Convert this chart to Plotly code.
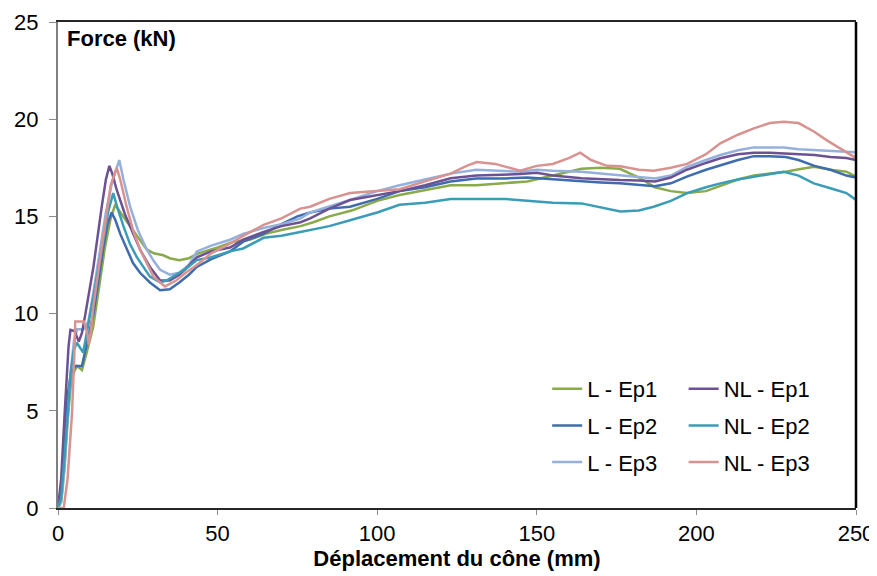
"""
Force vs cone displacement, L / NL series for three samples.
"""
import plotly.graph_objects as go

# --- L - Ep1 (green)
L_EP1_X = [0, 1, 2, 3, 4, 5, 6, 7.5, 9, 11, 13, 14.7, 16.5, 17.9, 20, 22.6, 25,
           27.8, 30, 33, 35, 38, 41, 44, 50, 55, 60, 65, 70, 76, 80, 85, 92,
           100, 107, 115, 123, 131, 140, 147, 155, 164, 170, 176, 182, 187,
           192, 197, 203, 208, 213, 218, 223, 228, 233, 237, 242, 247, 250]
L_EP1_Y = [0, 0.3, 2.0, 4.5, 6.3, 7.0, 7.3, 7.1, 8.0, 9.3, 11.5, 13.4, 14.9,
           15.6, 15.1, 14.5, 13.9, 13.3, 13.1, 13.0, 12.85, 12.75, 12.85, 13.1,
           13.4, 13.7, 13.8, 14.1, 14.3, 14.5, 14.7, 15.0, 15.3, 15.8, 16.1,
           16.35, 16.6, 16.6, 16.7, 16.8, 17.1, 17.45, 17.5, 17.45, 17.0, 16.5,
           16.3, 16.2, 16.3, 16.6, 16.9, 17.1, 17.2, 17.3, 17.45, 17.55, 17.4,
           17.3, 17.05]

# --- L - Ep2 (dark blue)
L_EP2_X = [0, 1, 2, 3, 4, 5.4, 7.5, 9, 11.1, 14.2, 15.5, 16.8, 18, 19.5, 21.5,
           23.5, 25.7, 28.8, 32, 35, 38, 41, 43.5, 48, 53.9, 58, 64.4, 70, 75,
           79, 85, 91.5, 100, 107, 115, 123, 131, 140, 147, 155, 164, 170, 176,
           182, 187, 192, 197, 203, 207.5, 213, 218, 223, 228, 232, 237, 242,
           247, 250]
L_EP2_Y = [0, 0.8, 3.5, 5.8, 6.9, 7.3, 7.3, 8.5, 10.0, 13.4, 14.6, 15.2, 14.8,
           14.1, 13.3, 12.6, 12.1, 11.6, 11.2, 11.25, 11.6, 12.0, 12.4, 12.8,
           13.2, 13.7, 14.1, 14.6, 15.0, 15.2, 15.4, 15.5, 15.9, 16.3, 16.5,
           16.8, 16.95, 16.95, 17.0, 16.9, 16.8, 16.75, 16.7, 16.6, 16.55, 16.7,
           17.05, 17.4, 17.64, 17.9, 18.1, 18.1, 18.05, 17.9, 17.6, 17.4, 17.1,
           17.0]

# --- L - Ep3 (light blue)
L_EP3_X = [0, 1, 2, 3, 4, 5, 6, 8, 9.5, 11, 13, 15, 17, 19.2, 20.5, 22.6, 25,
           27.8, 30, 32, 35, 38, 41, 43.5, 48, 53.9, 58, 64.4, 70, 76, 79, 85,
           91.5, 100, 107, 115, 123, 131, 140, 144.8, 150, 155, 164, 170, 176,
           182, 187, 192, 197, 203, 207.5, 213, 218, 223, 227.4, 232, 237, 242,
           247, 250]
L_EP3_Y = [0, 0.3, 2.0, 4.5, 7.0, 8.6, 9.2, 9.2, 9.6, 11.0, 13.0, 15.2, 16.8,
           17.9, 16.9, 15.5, 14.3, 13.3, 12.7, 12.25, 12.0, 12.1, 12.5, 13.2,
           13.5, 13.8, 14.1, 14.4, 14.6, 14.9, 15.2, 15.5, 15.85, 16.3, 16.6,
           16.9, 17.2, 17.4, 17.35, 17.3, 17.4, 17.35, 17.3, 17.2, 17.13, 17.0,
           16.95, 17.1, 17.55, 17.9, 18.16, 18.4, 18.55, 18.55, 18.55, 18.45,
           18.4, 18.35, 18.3, 18.3]

# --- NL - Ep1 (purple)
NL_EP1_X = [0, 1, 2.1, 3.3, 3.9, 5.2, 6.5, 7.5, 8.6, 11.1, 13.7, 15, 16.1, 17,
            18.4, 21, 23.6, 26, 28.8, 32, 35, 38, 40, 43.5, 48, 53.9, 58, 64.4,
            70, 76, 79, 85, 91.5, 100, 107, 115, 123, 131, 140, 144.8, 150,
            155, 164, 170, 176, 182, 187, 192, 197, 203, 207.5, 213, 218, 223,
            228, 232, 237, 242, 247, 250]
NL_EP1_Y = [0, 1.5, 4.9, 8.3, 9.16, 9.1, 8.56, 9.0, 10.0, 12.4, 15.5, 16.9,
            17.6, 17.2, 16.36, 15.1, 14.1, 13.2, 12.4, 11.7, 11.7, 12.0, 12.3,
            12.9, 13.2, 13.4, 13.8, 14.2, 14.5, 14.7, 14.9, 15.4, 15.84, 16.1,
            16.3, 16.6, 16.96, 17.1, 17.15, 17.18, 17.25, 17.1, 16.96, 16.9,
            16.87, 16.85, 16.8, 17.0, 17.4, 17.75, 17.99, 18.2, 18.28, 18.28,
            18.25, 18.2, 18.16, 18.05, 18.0, 17.9]

# --- NL - Ep2 (teal)
NL_EP2_X = [0, 1, 2, 3, 4, 4.9, 5.9, 7.9, 9.5, 11.1, 14.2, 15.8, 17.3, 18.5,
            20.5, 22.5, 24.7, 28.8, 32, 34, 37, 40, 43.5, 48, 53.9, 58, 64.4,
            70, 75.9, 79, 85, 91.5, 100, 107, 115, 123, 131, 140, 147, 155,
            164, 170, 176.2, 182, 186.6, 192, 197.1, 203, 207.5, 213, 218, 223,
            227.4, 232, 236.8, 242, 247, 250]
NL_EP2_Y = [0, 0.5, 2.5, 5.0, 7.0, 8.1, 8.5, 8.0, 9.4, 10.9, 13.8, 15.3, 16.2,
            15.5, 14.5, 13.6, 12.9, 11.9, 11.6, 11.7, 12.0, 12.3, 12.75, 12.9,
            13.2, 13.35, 13.9, 14.0, 14.2, 14.3, 14.5, 14.8, 15.2, 15.6, 15.7,
            15.9, 15.9, 15.9, 15.8, 15.7, 15.67, 15.45, 15.25, 15.3, 15.5, 15.8,
            16.2, 16.5, 16.7, 16.9, 17.05, 17.2, 17.3, 17.1, 16.7, 16.45, 16.2,
            15.85]

# --- NL - Ep3 (pink)
NL_EP3_X = [0, 1.8, 3, 4.4, 5.2, 5.4, 8.1, 9.2, 9.6, 10.2, 11.1, 14.2, 16.5,
            18.4, 19.5, 21.5, 23.5, 25.7, 28, 29.9, 33.5, 37, 40, 43.5, 48,
            53.9, 58, 64.4, 70, 75.9, 79, 85, 91.5, 100, 107, 115, 123, 128,
            131.2, 137, 142, 144.8, 150, 155, 160, 163.6, 167, 172, 176.2, 182,
            186.6, 192, 197.1, 203, 207.5, 213, 218, 223, 227.4, 232, 236.8,
            241, 245, 250]
NL_EP3_Y = [0, 0, 1.5, 4.9, 8.3, 9.6, 9.6, 9.0, 8.4, 9.0, 10.4, 14.1, 16.6,
            17.5, 16.9, 15.5, 14.3, 13.3, 12.5, 11.9, 11.4, 11.7, 12.1, 12.5,
            13.1, 13.6, 14.0, 14.56, 14.9, 15.4, 15.5, 15.9, 16.2, 16.3, 16.4,
            16.8, 17.2, 17.6, 17.8, 17.7, 17.5, 17.35, 17.6, 17.7, 18.0, 18.28,
            17.9, 17.6, 17.58, 17.4, 17.35, 17.5, 17.7, 18.2, 18.76, 19.2,
            19.53, 19.8, 19.87, 19.8, 19.37, 18.9, 18.5, 18.0]

X_TICKS = [0, 50, 100, 150, 200, 250]
Y_TICKS = [0, 5, 10, 15, 20, 25]

FONT = "Liberation Sans, Arial, sans-serif"
FSIZE = 22

SERIES = [
    ("L - Ep1", L_EP1_X, L_EP1_Y, "#8AAB4B", "legend"),
    ("L - Ep2", L_EP2_X, L_EP2_Y, "#3E6CAE", "legend"),
    ("L - Ep3", L_EP3_X, L_EP3_Y, "#95B0DC", "legend"),
    ("NL - Ep1", NL_EP1_X, NL_EP1_Y, "#6C5293", "legend2"),
    ("NL - Ep2", NL_EP2_X, NL_EP2_Y, "#3A9DB7", "legend2"),
    ("NL - Ep3", NL_EP3_X, NL_EP3_Y, "#D8928F", "legend2"),
]


def build_figure():
    fig = go.Figure()
    for name, xs, ys, color, leg in SERIES:
        fig.add_trace(go.Scatter(
            x=xs, y=ys, name=name, mode="lines",
            line={"color": color, "width": 2.5},
            legend=leg, legendgroup=name,
        ))

    legend_style = {"font": {"family": FONT, "size": FSIZE, "color": "black"},
                    "bgcolor": "rgba(0,0,0,0)", "tracegroupgap": 5,
                    "yanchor": "top", "xanchor": "left"}

    # the page body has an 8px margin, so the figure is a bit smaller
    fig.update_layout(
        width=869, height=568,
        margin={"l": 50, "r": 21, "t": 14, "b": 68, "autoexpand": False},
        plot_bgcolor="white", paper_bgcolor="white",
        font={"family": FONT, "size": FSIZE, "color": "black"},
        legend={**legend_style, "x": 0.613, "y": 0.288},
        legend2={**legend_style, "x": 0.784, "y": 0.288},
        xaxis={
            "range": [0, 250], "tickvals": X_TICKS,
            "showgrid": False, "zeroline": False, "automargin": False,
            "showline": True, "linecolor": "#262626", "linewidth": 2,
            "mirror": True,
            "ticks": "outside", "ticklen": 5, "tickcolor": "#8c8c8c",
            "tickfont": {"size": FSIZE}, "ticklabelstandoff": 0,
            "title": {"text": "<b>Déplacement du cône (mm)</b>",
                      "font": {"size": FSIZE}, "standoff": 0},
        },
        yaxis={
            "range": [0, 25], "tickvals": Y_TICKS,
            "showgrid": False, "zeroline": False, "automargin": False,
            "showline": True, "linecolor": "#808080", "linewidth": 2,
            "ticks": "outside", "ticklen": 7, "tickcolor": "#8c8c8c",
            "tickfont": {"size": FSIZE}, "ticklabelstandoff": 6,
        },
    )

    # right edge of the frame is black, unlike the grey left axis
    fig.add_shape(type="line", xref="paper", yref="paper",
                  x0=1, x1=1, y0=0, y1=1,
                  line={"color": "black", "width": 2.5})

    fig.add_annotation(text="<b>Force (kN)</b>", xref="paper", yref="paper",
                       x=0, y=1, xanchor="left", yanchor="top",
                       xshift=7, yshift=-2, showarrow=False,
                       font={"family": FONT, "size": FSIZE, "color": "black"})
    return fig


def main():
    fig = build_figure()
    fig.write_html("out.html")


if __name__ == "__main__":
    main()
